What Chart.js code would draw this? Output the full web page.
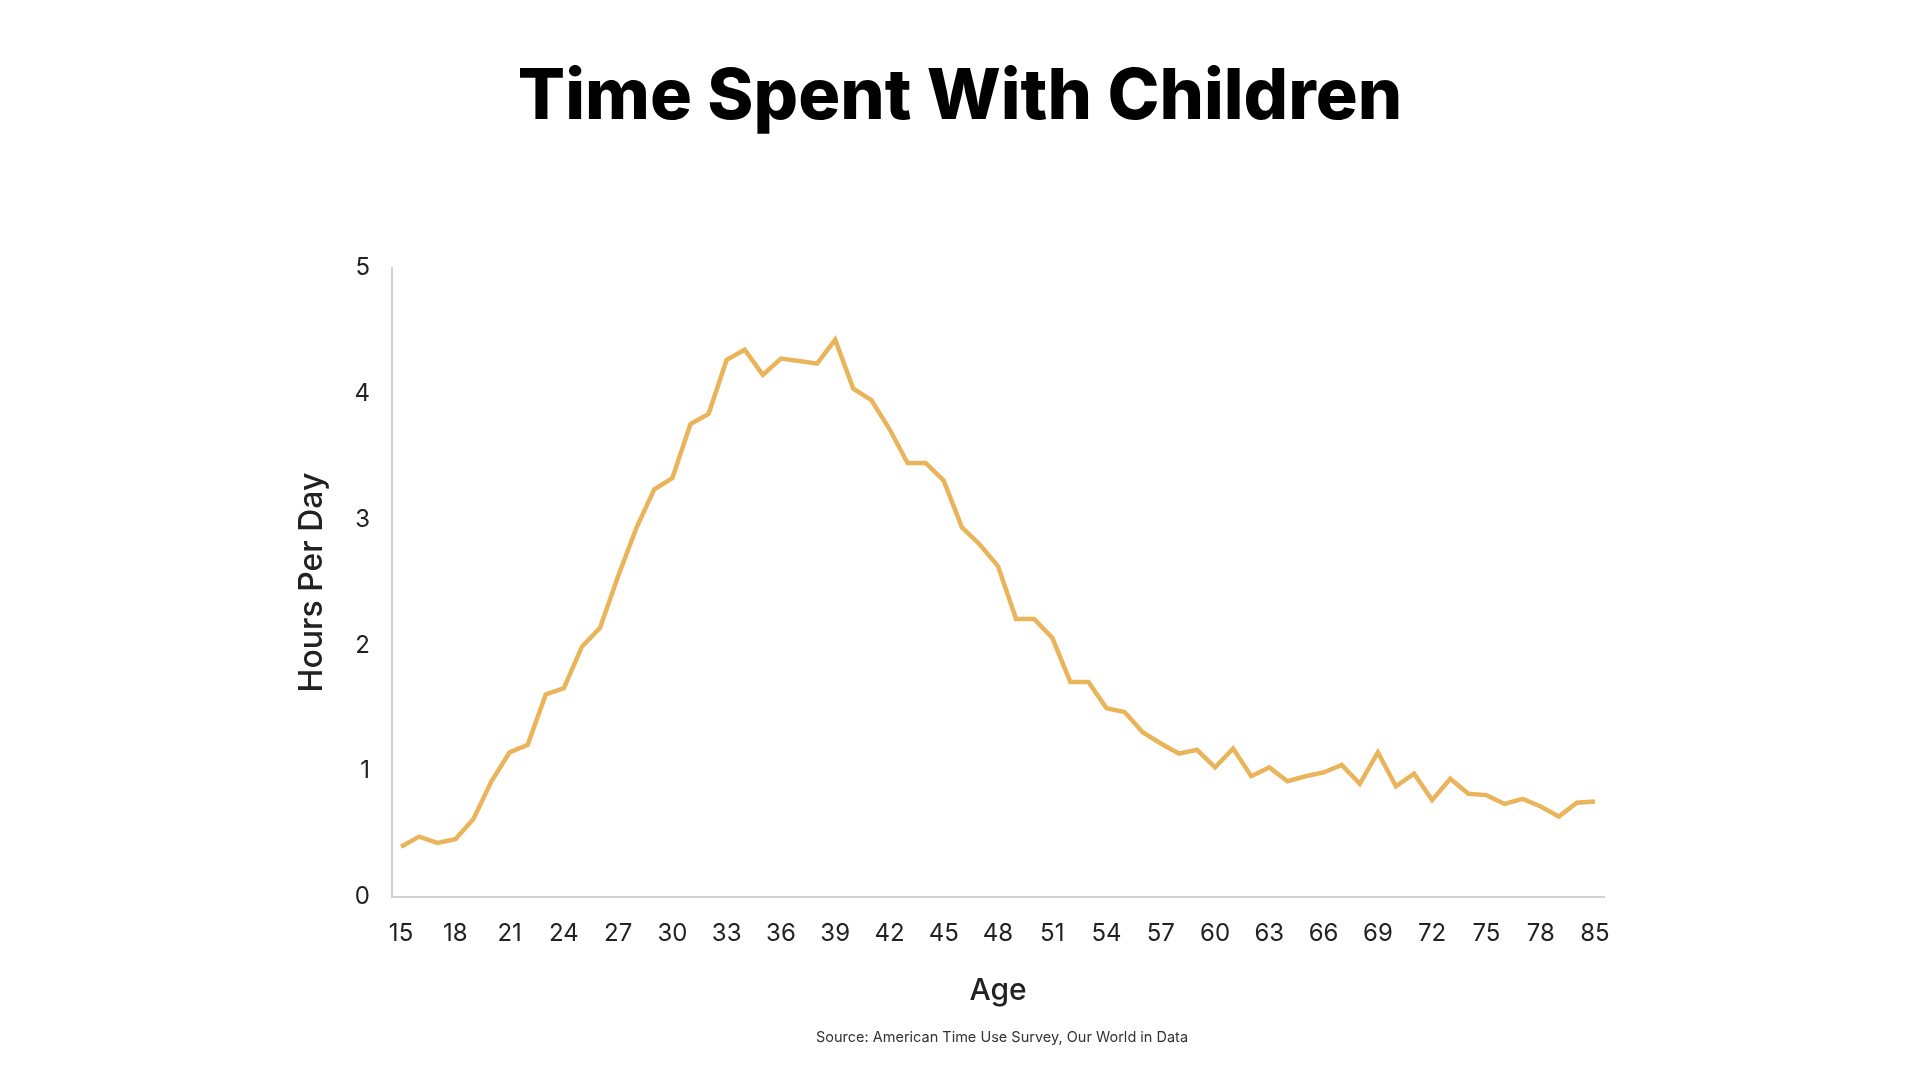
<!DOCTYPE html>
<html>
<head>
<meta charset="utf-8">
<title>Time Spent With Children</title>
<script src="https://cdn.jsdelivr.net/npm/chart.js@4.4.0/dist/chart.umd.min.js"></script>
<style>
  html, body { margin: 0; padding: 0; background: #fff; }
  #wrap { position: relative; width: 1920px; height: 1080px; }
  canvas { display: block; }
  #title {
    position: absolute; left: 0; top: 52px; width: 1920px;
    text-align: center; font-family: Inter, "Open Sans", sans-serif;
    font-size: 70px; font-weight: 800; line-height: 84px; color: #000;
  }
  #source {
    position: absolute; left: 602px; top: 1028px; width: 800px;
    text-align: center; font-family: Inter, "Open Sans", sans-serif;
    font-size: 14.5px; line-height: 18px; color: #333;
  }
</style>
</head>
<body>
<div id="wrap">
  <canvas id="timeChart" width="1920" height="1080"></canvas>
  <div id="title">Time Spent With Children</div>
  <div id="source">Source: American Time Use Survey, Our World in Data</div>
</div>
<script>
// ages on the x axis (the last point is the 85+ group)
const ages = ['15','16','17','18','19','20','21','22','23','24','25','26','27','28','29',
  '30','31','32','33','34','35','36','37','38','39','40','41','42','43','44',
  '45','46','47','48','49','50','51','52','53','54','55','56','57','58','59',
  '60','61','62','63','64','65','66','67','68','69','70','71','72','73','74',
  '75','76','77','78','79','80','85'];

// hours per day spent with children
const hoursPerDay = [0.40,0.48,0.43,0.46,0.62,0.92,1.15,1.21,1.61,1.66,1.99,2.14,2.55,2.93,3.24,
  3.33,3.76,3.84,4.27,4.35,4.15,4.28,4.26,4.24,4.43,4.04,3.95,3.72,3.45,3.45,
  3.31,2.94,2.80,2.63,2.21,2.21,2.06,1.71,1.71,1.50,1.47,1.31,1.22,1.14,1.17,
  1.03,1.18,0.96,1.03,0.92,0.96,0.99,1.05,0.90,1.15,0.88,0.98,0.77,0.94,0.82,
  0.81,0.74,0.78,0.72,0.64,0.75,0.76];

// x labels that are actually printed
const shownAges = ['15','18','21','24','27','30','33','36','39','42','45','48','51','54',
  '57','60','63','66','69','72','75','78','85'];

const yTicks = [0, 1, 2, 3, 4, 5];

const textColor = '#222222';
const axisColor = '#d2d2d2';
const lineColor = 'rgb(233, 180, 90)';
const fontName = 'Inter, "Open Sans", sans-serif';

const ctx = document.getElementById('timeChart').getContext('2d');
new Chart(ctx, {
    type: 'line',
    data: {
        labels: ages,
        datasets: [{
            label: 'Hours Per Day',
            data: hoursPerDay,
            borderColor: lineColor,
            borderWidth: 4.5,
            pointRadius: 0,
            tension: 0,
            fill: false
        }]
    },
    options: {
        responsive: false,
        animation: false,
        devicePixelRatio: 1,
        layout: {
            padding: { top: 268, left: 290, right: 316, bottom: 71 }
        },
        plugins: {
            legend: { display: false },
            tooltip: { enabled: false },
            title: { display: false }
        },
        scales: {
            x: {
                type: 'category',
                offset: true,
                grid: { color: 'rgba(0,0,0,0)', drawTicks: false },
                border: { display: true, color: axisColor, width: 2 },
                ticks: {
                    autoSkip: false,
                    maxRotation: 0,
                    padding: 22,
                    color: textColor,
                    font: { family: fontName, size: 24 },
                    callback: function(value) {
                        const lbl = this.getLabelForValue(value);
                        return shownAges.includes(lbl) ? lbl : '';
                    }
                },
                title: {
                    display: true,
                    text: 'Age',
                    color: textColor,
                    font: { family: fontName, size: 30, weight: '500' },
                    padding: { top: 0, bottom: 0 }
                },
                afterFit: function(scale) { scale.height = 112; }
            },
            y: {
                min: 0,
                max: 5,
                grid: { color: 'rgba(0,0,0,0)', drawTicks: false },
                border: { display: true, color: axisColor, width: 2 },
                afterBuildTicks: function(scale) {
                    scale.ticks = yTicks.map(v => ({ value: v }));
                },
                ticks: {
                    padding: 22,
                    color: textColor,
                    font: { family: fontName, size: 24 }
                },
                title: {
                    display: true,
                    text: 'Hours Per Day',
                    color: textColor,
                    font: { family: fontName, size: 32, weight: '500' },
                    padding: { top: 3, bottom: 0 }
                },
                afterFit: function(scale) { scale.width = 102; }
            }
        }
    }
});
</script>
</body>
</html>
